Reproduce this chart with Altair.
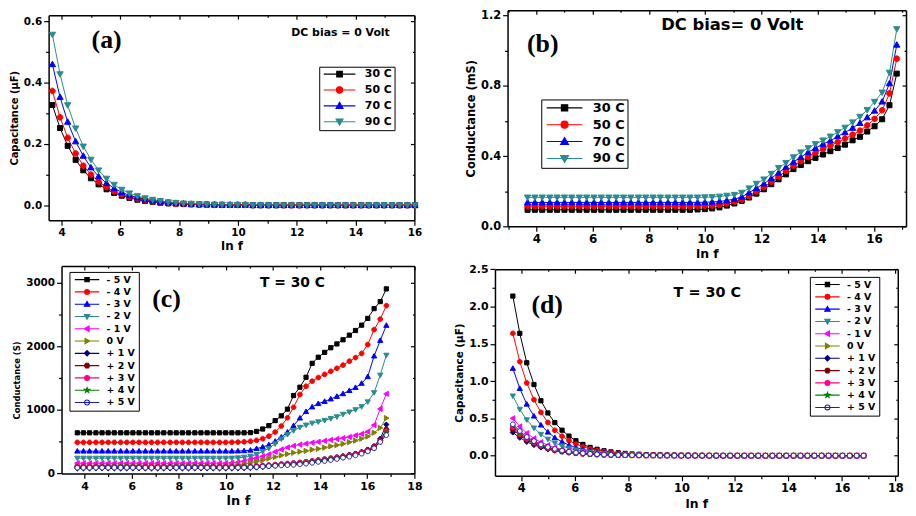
import altair as alt
import pandas as pd

W, H = 908, 508
FONT = "DejaVu Sans"
SERIF = "Liberation Serif"

# ---------------- data ----------------
LNF = [3.69, 3.95, 4.21, 4.48, 4.74, 5.00, 5.26, 5.53, 5.79, 6.05,
       6.31, 6.58, 6.84, 7.10, 7.36, 7.63, 7.89, 8.15, 8.41, 8.68,
       8.94, 9.20, 9.46, 9.73, 9.99, 10.25, 10.51, 10.77, 11.04, 11.30,
       11.56, 11.82, 12.09, 12.35, 12.61, 12.87, 13.14, 13.40, 13.66, 13.92,
       14.19, 14.45, 14.71, 14.97, 15.24, 15.50, 15.76, 16.02, 16.29, 16.55,
       16.81]

TEMPS = ["30 C", "50 C", "70 C", "90 C"]
VOLTS = ["- 5 V", "- 4 V", "- 3 V", "- 2 V", "- 1 V", "\u00a0\u00a00 V",
         "+ 1 V", "+ 2 V", "+ 3 V", "+ 4 V", "+ 5 V"]

# (a) capacitance (uF), DC bias 0 V
A_30 = [0.327, 0.252, 0.194, 0.148, 0.114, 0.088, 0.068, 0.052, 0.040, 0.031,
        0.024, 0.018, 0.014, 0.011, 0.008, 0.006, 0.005, 0.004, 0.003, 0.002,
        0.002, 0.001, 0.001, 0.001, 0.001, 0.001, 0.0, 0.0, 0.0, 0.0,
        0.0, 0.0, 0.0, 0.0, 0.0, 0.0, 0.0, 0.0, 0.0, 0.0,
        0.0, 0.0, 0.0, 0.0, 0.0, 0.0, 0.0, 0.0, 0.0, 0.0, 0.0]
A_50 = [0.373, 0.287, 0.220, 0.169, 0.129, 0.100, 0.077, 0.059, 0.045, 0.035,
        0.027, 0.021, 0.016, 0.012, 0.009, 0.007, 0.005, 0.004, 0.003, 0.002,
        0.002, 0.001, 0.001, 0.001, 0.001, 0.001, 0.0, 0.0, 0.0, 0.0,
        0.0, 0.0, 0.0, 0.0, 0.0, 0.0, 0.0, 0.0, 0.0, 0.0,
        0.0, 0.0, 0.0, 0.0, 0.0, 0.0, 0.0, 0.0, 0.0, 0.0, 0.0]
A_70 = [0.460, 0.353, 0.272, 0.208, 0.161, 0.123, 0.094, 0.072, 0.055, 0.042,
        0.032, 0.025, 0.019, 0.015, 0.011, 0.009, 0.007, 0.005, 0.004, 0.003,
        0.002, 0.002, 0.001, 0.001, 0.001, 0.001, 0.0, 0.0, 0.0, 0.0,
        0.0, 0.0, 0.0, 0.0, 0.0, 0.0, 0.0, 0.0, 0.0, 0.0,
        0.0, 0.0, 0.0, 0.0, 0.0, 0.0, 0.0, 0.0, 0.0, 0.0, 0.0]
A_90 = [0.557, 0.428, 0.327, 0.251, 0.192, 0.149, 0.114, 0.087, 0.067, 0.051,
        0.039, 0.030, 0.023, 0.018, 0.014, 0.010, 0.008, 0.006, 0.005, 0.004,
        0.003, 0.002, 0.002, 0.001, 0.001, 0.001, 0.0, 0.0, 0.0, 0.0,
        0.0, 0.0, 0.0, 0.0, 0.0, 0.0, 0.0, 0.0, 0.0, 0.0,
        0.0, 0.0, 0.0, 0.0, 0.0, 0.0, 0.0, 0.0, 0.0, 0.0, 0.0]

# (b) conductance (mS), DC bias 0 V
B_30 = [0.094, 0.094, 0.094, 0.094, 0.094, 0.094, 0.094, 0.094, 0.094, 0.094,
        0.094, 0.094, 0.094, 0.094, 0.094, 0.094, 0.094, 0.094, 0.094, 0.094,
        0.094, 0.094, 0.094, 0.096, 0.098, 0.102, 0.108, 0.118, 0.130, 0.145,
        0.164, 0.186, 0.211, 0.240, 0.268, 0.296, 0.326, 0.349, 0.371, 0.390,
        0.409, 0.428, 0.446, 0.465, 0.490, 0.510, 0.540, 0.570, 0.610, 0.690, 0.870]
B_50 = [0.115, 0.115, 0.115, 0.115, 0.115, 0.115, 0.115, 0.115, 0.115, 0.115,
        0.115, 0.115, 0.115, 0.115, 0.115, 0.115, 0.115, 0.115, 0.115, 0.115,
        0.115, 0.115, 0.115, 0.116, 0.117, 0.118, 0.122, 0.130, 0.140, 0.153,
        0.173, 0.198, 0.224, 0.254, 0.283, 0.315, 0.345, 0.371, 0.395, 0.418,
        0.441, 0.460, 0.479, 0.500, 0.522, 0.545, 0.575, 0.612, 0.661, 0.757, 0.955]
B_70 = [0.136, 0.136, 0.136, 0.136, 0.136, 0.136, 0.136, 0.136, 0.136, 0.136,
        0.136, 0.136, 0.136, 0.136, 0.136, 0.136, 0.136, 0.136, 0.136, 0.136,
        0.136, 0.136, 0.136, 0.136, 0.137, 0.139, 0.142, 0.147, 0.155, 0.168,
        0.192, 0.217, 0.243, 0.273, 0.305, 0.337, 0.367, 0.394, 0.422, 0.446,
        0.469, 0.488, 0.512, 0.535, 0.560, 0.588, 0.620, 0.658, 0.710, 0.814, 1.034]
B_90 = [0.165, 0.165, 0.165, 0.165, 0.165, 0.165, 0.165, 0.165, 0.165, 0.165,
        0.165, 0.165, 0.165, 0.165, 0.165, 0.165, 0.165, 0.165, 0.165, 0.165,
        0.165, 0.165, 0.165, 0.165, 0.166, 0.167, 0.170, 0.175, 0.180, 0.192,
        0.217, 0.243, 0.268, 0.300, 0.333, 0.362, 0.394, 0.422, 0.446, 0.469,
        0.490, 0.512, 0.537, 0.563, 0.593, 0.625, 0.663, 0.710, 0.763, 0.876, 1.124]

# (c) conductance (S), T = 30 C
C_M5 = [638, 638, 638, 638, 638, 638, 638, 638, 638, 638,
        638, 638, 638, 638, 638, 638, 638, 638, 638, 638,
        638, 638, 638, 638, 638, 638, 638, 638, 641, 660,
        698, 750, 830, 905, 1010, 1224, 1355, 1511, 1730, 1826,
        1902, 1975, 2035, 2100, 2173, 2246, 2330, 2436, 2590, 2700, 2900]
C_M4 = [488, 488, 488, 488, 488, 488, 488, 488, 488, 488,
        488, 488, 488, 488, 488, 488, 488, 488, 488, 488,
        488, 488, 488, 488, 488, 490, 492, 496, 505, 520,
        545, 585, 650, 745, 875, 1040, 1240, 1370, 1450, 1507,
        1556, 1605, 1652, 1702, 1763, 1820, 1885, 2025, 2260, 2425, 2637]
C_M3 = [350, 350, 350, 350, 350, 350, 350, 350, 350, 350,
        350, 350, 350, 350, 350, 350, 350, 350, 350, 350,
        350, 350, 350, 350, 350, 350, 352, 356, 365, 390,
        415, 450, 505, 570, 648, 750, 870, 972, 1045, 1097,
        1131, 1170, 1210, 1252, 1302, 1350, 1415, 1520, 1845, 2090, 2326]
C_M2 = [240, 240, 240, 240, 240, 240, 240, 240, 240, 240,
        240, 240, 240, 240, 240, 240, 240, 240, 240, 240,
        240, 240, 240, 240, 240, 241, 245, 255, 270, 298,
        345, 395, 466, 542, 612, 672, 725, 760, 790, 811,
        834, 862, 890, 930, 965, 1002, 1050, 1125, 1270, 1545, 1858]
C_M1 = [160, 160, 160, 160, 160, 160, 160, 160, 160, 160,
        160, 160, 160, 160, 160, 160, 160, 160, 160, 160,
        160, 160, 160, 160, 162, 166, 175, 195, 224, 245,
        270, 300, 340, 376, 408, 433, 453, 468, 483, 497,
        512, 527, 541, 555, 572, 597, 620, 656, 760, 1015, 1251]
C_0 = [120, 120, 120, 120, 120, 120, 120, 120, 120, 120,
       120, 120, 120, 120, 120, 120, 120, 120, 120, 120,
       120, 120, 120, 120, 122, 126, 135, 148, 167, 189,
       208, 235, 257, 283, 305, 325, 341, 354, 374, 386,
       406, 426, 444, 464, 490, 515, 545, 580, 640, 715, 870]
C_P1 = [80, 80, 80, 80, 80, 80, 80, 80, 80, 80,
        80, 80, 80, 80, 80, 80, 80, 80, 80, 80,
        80, 80, 80, 80, 80, 80, 81, 83, 85, 92,
        100, 110, 120, 130, 140, 150, 162, 175, 190, 205,
        220, 236, 252, 270, 290, 312, 338, 375, 430, 545, 768]
C_P2 = [100, 100, 100, 100, 100, 100, 100, 100, 100, 100,
        100, 100, 100, 100, 100, 100, 100, 100, 100, 100,
        100, 100, 100, 100, 100, 100, 101, 102, 104, 110,
        117, 125, 133, 142, 150, 158, 168, 180, 193, 207,
        222, 237, 252, 270, 288, 308, 333, 368, 420, 520, 690]
C_P3 = [110, 110, 110, 110, 110, 110, 110, 110, 110, 110,
        110, 110, 110, 110, 110, 110, 110, 110, 110, 110,
        110, 110, 110, 110, 110, 110, 111, 112, 113, 118,
        125, 132, 140, 148, 156, 164, 173, 184, 196, 209,
        223, 237, 251, 267, 284, 303, 327, 360, 410, 505, 664]
C_P4 = [100, 100, 100, 100, 100, 100, 100, 100, 100, 100,
        100, 100, 100, 100, 100, 100, 100, 100, 100, 100,
        100, 100, 100, 100, 100, 100, 101, 102, 103, 108,
        114, 121, 129, 137, 145, 153, 162, 173, 185, 198,
        212, 226, 240, 256, 273, 292, 316, 350, 400, 495, 640]
C_P5 = [90, 90, 90, 90, 90, 90, 90, 90, 90, 90,
        90, 90, 90, 90, 90, 90, 90, 90, 90, 90,
        90, 90, 90, 90, 90, 90, 91, 92, 95, 100,
        108, 115, 120, 126, 130, 134, 143, 153, 166, 181,
        195, 210, 226, 246, 263, 285, 311, 347, 395, 495, 602]

# (d) capacitance (uF), T = 30 C
D_M5 = [2.14, 1.64, 1.245, 0.953, 0.736, 0.572, 0.443, 0.341, 0.262, 0.200,
        0.150, 0.110, 0.085, 0.065, 0.050, 0.038, 0.029, 0.022, 0.017, 0.013,
        0.010, 0.008, 0.006, 0.005, 0.004, 0.003, 0.002, 0.002, 0.001, 0.001,
        0.0, 0.0, 0.0, 0.0, 0.0, 0.0, 0.0, 0.0, 0.0, 0.0,
        0.0, 0.0, 0.0, 0.0, 0.0, 0.0, 0.0, 0.0, 0.0, 0.0, 0.0]
D_M4 = [1.64, 1.26, 0.975, 0.750, 0.580, 0.445, 0.340, 0.260, 0.200, 0.155,
        0.120, 0.090, 0.070, 0.053, 0.040, 0.031, 0.024, 0.018, 0.014, 0.011,
        0.008, 0.006, 0.005, 0.004, 0.003, 0.002, 0.002, 0.001, 0.001, 0.001,
        0.0, 0.0, 0.0, 0.0, 0.0, 0.0, 0.0, 0.0, 0.0, 0.0,
        0.0, 0.0, 0.0, 0.0, 0.0, 0.0, 0.0, 0.0, 0.0, 0.0, 0.0]
D_M3 = [1.17, 0.90, 0.690, 0.530, 0.410, 0.315, 0.240, 0.185, 0.140, 0.108,
        0.083, 0.064, 0.049, 0.038, 0.029, 0.022, 0.017, 0.013, 0.010, 0.008,
        0.006, 0.005, 0.004, 0.003, 0.002, 0.002, 0.001, 0.001, 0.001, 0.0,
        0.0, 0.0, 0.0, 0.0, 0.0, 0.0, 0.0, 0.0, 0.0, 0.0,
        0.0, 0.0, 0.0, 0.0, 0.0, 0.0, 0.0, 0.0, 0.0, 0.0, 0.0]
D_M2 = [0.80, 0.62, 0.480, 0.370, 0.285, 0.220, 0.170, 0.130, 0.100, 0.077,
        0.059, 0.045, 0.035, 0.027, 0.021, 0.016, 0.012, 0.009, 0.007, 0.005,
        0.004, 0.003, 0.002, 0.002, 0.001, 0.001, 0.001, 0.0, 0.0, 0.0,
        0.0, 0.0, 0.0, 0.0, 0.0, 0.0, 0.0, 0.0, 0.0, 0.0,
        0.0, 0.0, 0.0, 0.0, 0.0, 0.0, 0.0, 0.0, 0.0, 0.0, 0.0]
D_M1 = [0.50, 0.39, 0.300, 0.230, 0.180, 0.140, 0.107, 0.083, 0.064, 0.049,
        0.038, 0.029, 0.022, 0.017, 0.013, 0.010, 0.008, 0.006, 0.005, 0.004,
        0.003, 0.002, 0.002, 0.001, 0.001, 0.001, 0.0, 0.0, 0.0, 0.0,
        0.0, 0.0, 0.0, 0.0, 0.0, 0.0, 0.0, 0.0, 0.0, 0.0,
        0.0, 0.0, 0.0, 0.0, 0.0, 0.0, 0.0, 0.0, 0.0, 0.0, 0.0]
D_0 = [0.36, 0.28, 0.215, 0.165, 0.128, 0.099, 0.076, 0.058, 0.045, 0.035,
       0.027, 0.020, 0.016, 0.012, 0.009, 0.007, 0.005, 0.004, 0.003, 0.002,
       0.002, 0.001, 0.001, 0.001, 0.0, 0.0, 0.0, 0.0, 0.0, 0.0,
       0.0, 0.0, 0.0, 0.0, 0.0, 0.0, 0.0, 0.0, 0.0, 0.0,
       0.0, 0.0, 0.0, 0.0, 0.0, 0.0, 0.0, 0.0, 0.0, 0.0, 0.0]
D_P1 = [0.31, 0.24, 0.185, 0.143, 0.110, 0.085, 0.066, 0.051, 0.039, 0.030,
        0.023, 0.018, 0.014, 0.011, 0.008, 0.006, 0.005, 0.004, 0.003, 0.002,
        0.002, 0.001, 0.001, 0.001, 0.0, 0.0, 0.0, 0.0, 0.0, 0.0,
        0.0, 0.0, 0.0, 0.0, 0.0, 0.0, 0.0, 0.0, 0.0, 0.0,
        0.0, 0.0, 0.0, 0.0, 0.0, 0.0, 0.0, 0.0, 0.0, 0.0, 0.0]
D_P2 = [0.35, 0.27, 0.210, 0.160, 0.124, 0.096, 0.074, 0.057, 0.044, 0.034,
        0.026, 0.020, 0.015, 0.012, 0.009, 0.007, 0.005, 0.004, 0.003, 0.002,
        0.002, 0.001, 0.001, 0.001, 0.0, 0.0, 0.0, 0.0, 0.0, 0.0,
        0.0, 0.0, 0.0, 0.0, 0.0, 0.0, 0.0, 0.0, 0.0, 0.0,
        0.0, 0.0, 0.0, 0.0, 0.0, 0.0, 0.0, 0.0, 0.0, 0.0, 0.0]
D_P3 = [0.38, 0.29, 0.225, 0.173, 0.133, 0.103, 0.079, 0.061, 0.047, 0.036,
        0.028, 0.021, 0.016, 0.013, 0.010, 0.007, 0.006, 0.004, 0.003, 0.002,
        0.002, 0.001, 0.001, 0.001, 0.0, 0.0, 0.0, 0.0, 0.0, 0.0,
        0.0, 0.0, 0.0, 0.0, 0.0, 0.0, 0.0, 0.0, 0.0, 0.0,
        0.0, 0.0, 0.0, 0.0, 0.0, 0.0, 0.0, 0.0, 0.0, 0.0, 0.0]
D_P4 = [0.40, 0.31, 0.240, 0.180, 0.140, 0.108, 0.083, 0.064, 0.049, 0.038,
        0.029, 0.022, 0.017, 0.013, 0.010, 0.008, 0.006, 0.005, 0.004, 0.003,
        0.002, 0.002, 0.001, 0.001, 0.0, 0.0, 0.0, 0.0, 0.0, 0.0,
        0.0, 0.0, 0.0, 0.0, 0.0, 0.0, 0.0, 0.0, 0.0, 0.0,
        0.0, 0.0, 0.0, 0.0, 0.0, 0.0, 0.0, 0.0, 0.0, 0.0, 0.0]
D_P5 = [0.42, 0.33, 0.250, 0.195, 0.150, 0.115, 0.089, 0.068, 0.053, 0.040,
        0.031, 0.024, 0.018, 0.014, 0.011, 0.008, 0.006, 0.005, 0.004, 0.003,
        0.002, 0.002, 0.001, 0.001, 0.0, 0.0, 0.0, 0.0, 0.0, 0.0,
        0.0, 0.0, 0.0, 0.0, 0.0, 0.0, 0.0, 0.0, 0.0, 0.0,
        0.0, 0.0, 0.0, 0.0, 0.0, 0.0, 0.0, 0.0, 0.0, 0.0, 0.0]

# axis tick values
XT_A = [4, 5, 6, 7, 8, 9, 10, 11, 12, 13, 14, 15, 16]
XT_B = [3, 4, 5, 6, 7, 8, 9, 10, 11, 12, 13, 14, 15, 16, 17]
XT_CD = [4, 5, 6, 7, 8, 9, 10, 11, 12, 13, 14, 15, 16, 17, 18]
YT_A = [0.0, 0.1, 0.2, 0.3, 0.4, 0.5, 0.6]
YT_B = [0.0, 0.2, 0.4, 0.6, 0.8, 1.0, 1.2]
YT_C = [0, 500, 1000, 1500, 2000, 2500, 3000]
YT_D = [0.0, 0.25, 0.5, 0.75, 1.0, 1.25, 1.5, 1.75, 2.0, 2.25, 2.5]

# ---------------- styles ----------------
SQ = "M-0.8,-0.8H0.8V0.8H-0.8Z"
CI = "M0.9,0A0.9,0.9,0,1,1,-0.9,0A0.9,0.9,0,1,1,0.9,0Z"
TU = "M0,-1L1,0.75H-1Z"
TD = "M0,1L1,-0.75H-1Z"
TL = "M-1,0L0.75,-1V1Z"
TR = "M1,0L-0.75,-1V1Z"
DI = "M0,-1L1,0L0,1L-1,0Z"
HX = "M-0.5,-0.87H0.5L1,0L0.5,0.87H-0.5L-1,0Z"
ST = ("M0,-1L0.24,-0.33L0.95,-0.31L0.38,0.12L0.59,0.81L0,0.4L-0.59,0.81"
      "L-0.38,0.12L-0.95,-0.31L-0.24,-0.33Z")
LINE = "M-4.5,0H4.5"

T_STROKE = ["#000000", "#FF0000", "#0000FF", "#2A8C8C"]
T_SHAPE = [SQ, CI, TU, TD]
V_STROKE = ["#000000", "#FF0000", "#0000FF", "#2A8C8C", "#FF00FF", "#808000",
            "#00007F", "#7F0000", "#FF0080", "#008000", "#1C1CB0"]
V_FILL = ["#000000", "#FF0000", "#0000FF", "#2A8C8C", "#FF00FF", "#808000",
          "#00007F", "#7F0000", "#FF0080", "#008000", "#FFFFFF"]
V_SHAPE = [SQ, CI, TU, TD, TL, TR, DI, HX, CI, ST, CI]


def long_df(names, series):
    rows = []
    for n, ys in zip(names, series):
        for x, y in zip(LNF, ys):
            rows.append({"x": x, "y": y, "s": n})
    return pd.DataFrame(rows)


def axis(orient, offset, vals, test, lfs=11, fmt=None, title=None, tfs=12,
         labels=True, lpad=2, tpad=3, big=5, small=3, titleY=None):
    kw = dict(orient=orient, offset=offset, values=vals, grid=False,
              domainColor="black", domainWidth=1.5, tickColor="black", tickWidth=1.2,
              tickSize={"condition": {"test": test, "value": big}, "value": small},
              labels=labels, labelOverlap=False, labelFlush=False,
              labelFont=FONT, labelFontSize=lfs, labelFontWeight="bold",
              labelColor="black", labelPadding=lpad,
              titleFont=FONT, titleFontSize=tfs, titleFontWeight="bold",
              titleColor="black", titlePadding=tpad, title=title)
    if labels:
        kw["labelExpr"] = "(" + test + ") ? datum.label : ''"
    if fmt:
        kw["format"] = fmt
    if titleY is not None:
        kw["titleY"] = titleY
    return alt.Axis(**kw)


def panel(df, names, strokes, fills, shapes, xdom, xrng, ydom, yrng, xvals, xtest,
          yvals, ytest, yfmt, ytitle, fs, msize, leg, texts):
    xs = alt.Scale(domain=xdom, range=xrng, nice=False, zero=False)
    ys = alt.Scale(domain=ydom, range=yrng, nice=False, zero=False)
    sc_stroke = alt.Scale(domain=names, range=strokes)
    sc_fill = alt.Scale(domain=names, range=fills)
    sc_shape = alt.Scale(domain=names, range=shapes)
    sc_lshape = alt.Scale(domain=names, range=[LINE + s for s in shapes])

    ax_b = axis("bottom", yrng[0] - H, xvals, xtest, lfs=fs["xl"], title="ln f",
                tfs=fs["xt"], lpad=fs["xlp"], tpad=fs["xtp"])
    ax_l = axis("left", -xrng[0], yvals, ytest, lfs=fs["yl"], fmt=yfmt, title=ytitle,
                tfs=fs["yt"], lpad=fs["ylp"], tpad=fs["ytp"], titleY=fs.get("tY"))
    ax_t = axis("bottom", yrng[1] - H, xvals, xtest, labels=False, big=4, small=2)
    ax_r = axis("left", -xrng[1], yvals, ytest, labels=False, big=4, small=2)

    lines = alt.Chart(df).mark_line(strokeWidth=1).encode(
        x=alt.X("x:Q", scale=xs, axis=ax_b),
        y=alt.Y("y:Q", scale=ys, axis=ax_l),
        color=alt.Color("s:N", scale=sc_stroke, legend=None),
    )
    points = alt.Chart(df).mark_point(filled=True, size=msize, strokeWidth=1,
                                      opacity=1).encode(
        x=alt.X("x:Q", scale=xs, axis=ax_t),
        y=alt.Y("y:Q", scale=ys, axis=ax_r),
        fill=alt.Fill("s:N", scale=sc_fill, legend=None),
        stroke=alt.Stroke("s:N", scale=sc_stroke, legend=None),
        shape=alt.Shape("s:N", scale=sc_shape, legend=None),
    )
    lg = alt.Legend(orient="none", legendX=leg["x"], legendY=leg["y"], title=None,
                    direction="vertical", fillColor="white", strokeColor="black",
                    padding=leg["pad"], rowPadding=leg["rp"],
                    symbolSize=leg["size"], symbolStrokeWidth=1.1, symbolOpacity=1,
                    symbolOffset=leg["so"], labelOffset=leg["lo"],
                    labelFont=FONT, labelFontSize=leg["fs"], labelFontWeight="bold",
                    labelColor="black")
    ldf = pd.DataFrame({"s": names})
    legend = alt.Chart(ldf).mark_point(filled=True, opacity=0).encode(
        fill=alt.Fill("s:N", scale=sc_fill, legend=lg),
        stroke=alt.Stroke("s:N", scale=sc_stroke, legend=lg),
        shape=alt.Shape("s:N", scale=sc_lshape, legend=lg),
    )
    units = [lines, points, legend]
    one = pd.DataFrame({"k": [0]})
    for (txt, px, py, font, size) in texts:
        units.append(alt.Chart(one).mark_text(
            text=txt, font=font, fontSize=size, fontWeight="bold", color="black",
            align="center", baseline="middle").encode(x=alt.value(px), y=alt.value(py)))
    return units


df_a = long_df(TEMPS, [A_30, A_50, A_70, A_90])
df_a = df_a[df_a["x"] <= 16.05]
df_b = long_df(TEMPS, [B_30, B_50, B_70, B_90])
df_c = long_df(VOLTS, [C_M5, C_M4, C_M3, C_M2, C_M1, C_0, C_P1, C_P2, C_P3, C_P4, C_P5])
df_d = long_df(VOLTS, [D_M5, D_M4, D_M3, D_M2, D_M1, D_0, D_P1, D_P2, D_P3, D_P4, D_P5])

EVEN = "datum.value % 2 == 0"

units = []
units += panel(df_a, TEMPS, T_STROKE, T_STROKE, T_SHAPE,
               [3.562, 16.0], [41, 410], [-0.0495, 0.6204], [212, 5],
               XT_A, EVEN, YT_A, "round(datum.value*10) % 2 == 0", ".1f",
               "Capacitance (\u03bcF)",
               dict(xl=10.5, xt=12, xlp=2, xtp=3, yl=10.5, yt=10, ylp=2, ytp=4),
               40,
               dict(x=314, y=57, pad=2, rp=4, size=50, so=13, lo=20, fs=11),
               [("(a)", 99.5, 30, SERIF, 26),
                ("DC bias = 0 Volt", 335.5, 23, FONT, 11)])
units += panel(df_b, TEMPS, T_STROKE, T_STROKE, T_SHAPE,
               [2.979, 17.138], [504, 906], [0.0, 1.231], [218, 0],
               XT_B, EVEN, YT_B, "round(datum.value*10) % 4 == 0", ".1f",
               "Conductance (mS)",
               dict(xl=12, xt=12.5, xlp=2, xtp=3, yl=11.5, yt=11.5, ylp=2, ytp=4),
               40,
               dict(x=538, y=90, pad=2, rp=3, size=64, so=15, lo=22, fs=13),
               [("(b)", 539.5, 34, SERIF, 26),
                ("DC bias= 0 Volt", 730.7, 14.5, FONT, 16.5)])
units += panel(df_c, VOLTS, V_STROKE, V_FILL, V_SHAPE,
               [3.02, 18.0], [54, 410], [0, 3260], [467.3, 258],
               XT_CD, EVEN, YT_C, "datum.value % 1000 == 0", "d",
               "Conductance (S)",
               dict(xl=11, xt=13, xlp=2, xtp=3, yl=10.5, yt=8.5, ylp=2, ytp=4, tY=373),
               28,
               dict(x=62, y=264, pad=3, rp=1.4, size=30, so=10, lo=15, fs=9.5),
               [("(c)", 160, 291, SERIF, 26),
                ("T = 30 C", 287, 275, FONT, 14)])
units += panel(df_d, VOLTS, V_STROKE, V_FILL, V_SHAPE,
               [3.021, 18.09], [491.3, 897.7], [-0.271, 2.5], [469.7, 261.3],
               XT_CD, EVEN, YT_D, "round(datum.value*4) % 2 == 0", ".1f",
               "Capacitance (\u03bcF)",
               dict(xl=11.5, xt=12.5, xlp=2, xtp=3, yl=11, yt=10.5, ylp=2, ytp=4),
               28,
               dict(x=809, y=269, pad=3, rp=1.4, size=30, so=10, lo=15, fs=9.5),
               [("(d)", 544, 297, SERIF, 26),
                ("T = 30 C", 705.5, 285, FONT, 14.5)])

chart = alt.layer(*units).resolve_scale(
    x="independent", y="independent", color="independent", fill="independent",
    stroke="independent", shape="independent"
).resolve_axis(x="independent", y="independent").properties(
    width=W, height=H, padding=0, autosize=alt.AutoSizeParams(type="none")
).configure_view(stroke="transparent")

chart.save("out.html", embed_options={"renderer": "svg", "actions": False})
